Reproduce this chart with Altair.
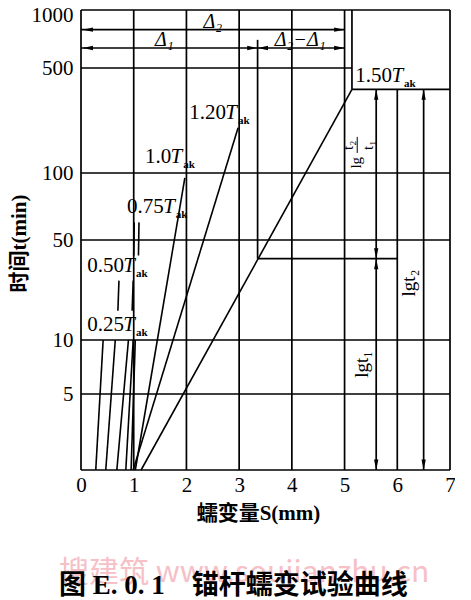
import altair as alt
import pandas as pd

SERIF = "Liberation Serif, DejaVu Serif"
MIX = "Liberation Serif, Noto Sans CJK SC"
CJK = "Noto Sans CJK SC"

# ---------------- data ----------------
x_ticks = [0, 1, 2, 3, 4, 5, 6, 7]
y_ticks = [5, 10, 50, 100, 500, 1000]
# grid values of the time axis (the printed grid is not an even log scale)
y_grid_values = [2, 5, 10, 50, 100, 500, 1000]

# creep lines: start (S, t) -> end (S, t)
creep_s0 = [0.28, 0.47, 0.68, 0.85, 0.95, 1.03, 0.99, 1.14]
creep_t0 = [2, 2, 2, 2, 2, 2, 2, 2]
creep_s1 = [0.42, 0.65, 0.90, 0.99, 1.03, 1.97, 2.98, 5.14]
creep_t1 = [10, 10, 10, 10, 10, 95, 200, 360]

# short pieces of the 0.50T / 0.75T lines visible between labels
piece_s0 = [0.70, 0.97, 1.00, 1.09]
piece_t0 = [16, 16, 39, 39]
piece_s1 = [0.72, 0.99, 1.01, 1.10]
piece_t1 = [26, 26, 60, 60]

# vertical lines: S, t from, t to
vline_s = [0, 1, 2, 3, 4, 5, 6, 7, 5.14, 3.35, 5.6, 6.5]
vline_t0 = [2, 2, 2, 2, 2, 2, 2, 2, 360, 37, 2, 2]
vline_t1 = [1000, 1000, 1000, 1000, 1000, 1000, 360, 1000, 1000, 700, 360, 360]
# horizontal lines: t, S from, S to
hline_t = [1000, 500, 100, 50, 10, 5, 2, 360, 37, 790, 635]
hline_s0 = [0, 0, 0, 0, 0, 0, 0, 5.14, 3.35, 0, 0]
hline_s1 = [7, 5.14, 7, 7, 7, 7, 7, 7, 6, 5, 5]

# arrow heads (tip position and direction)
arrow_s = [5.6, 6.5, 5.6, 5.6, 6.5, 5.6, 0.03, 0.03, 3.35, 5.0, 5.0, 3.35]
arrow_t = [360, 360, 37, 2, 2, 37, 790, 635, 635, 790, 635, 635]
arrow_dir = ["up", "up", "up", "down", "down", "down",
             "left", "left", "left", "right", "right", "right"]

# load stage labels (right end of "T")
stage_num = ["0.25", "0.50", "0.75", "1.0", "1.20", "1.50"]
stage_s = [1.025, 1.025, 1.78, 1.92, 2.96, 6.11]
stage_t = [12.7, 33, 70, 128, 251, 443]

# dimension labels
delta_text = ["Δ₂", "Δ₁", "Δ₂−Δ₁"]
delta_s = [2.5, 1.58, 4.16]
delta_t = [866, 698, 698]

# rotated labels
lg_text = ["lgt₁", "lgt₂"]
lg_s = [5.33, 6.22]
lg_t = [7.3, 25]
frac_text = ["lg", "t₂", "t₁"]
frac_s = [5.22, 5.07, 5.45]
frac_t = [117, 153, 153]
bar_s = [5.24]
bar_t0 = [136]
bar_t1 = [174]

# ---------------- tables ----------------
lines_df = pd.DataFrame({
    "s": vline_s + hline_s0,
    "s2": vline_s + hline_s1,
    "t": vline_t0 + hline_t,
    "t2": vline_t1 + hline_t,
})
creep_df = pd.DataFrame({"s": creep_s0 + piece_s0, "t": creep_t0 + piece_t0,
                         "s2": creep_s1 + piece_s1, "t2": creep_t1 + piece_t1})
bar_df = pd.DataFrame({"s": bar_s, "s2": bar_s, "t": bar_t0, "t2": bar_t1})
arrow_df = pd.DataFrame({"s": arrow_s, "t": arrow_t, "dir": arrow_dir})
stage_df = pd.DataFrame({"s": stage_s, "t": stage_t, "num": stage_num})
delta_df = pd.DataFrame({"s": delta_s, "t": delta_t, "txt": delta_text})
lg_df = pd.DataFrame({"s": lg_s, "t": lg_t, "txt": lg_text})
frac_df = pd.DataFrame({"s": frac_s, "t": frac_t, "txt": frac_text})

# ---------------- scales / axes ----------------
xscale = alt.Scale(domain=[0, 7], nice=False, zero=False)
yscale = alt.Scale(type="log", domain=y_grid_values,
                   range=[460, 384, 330, 230, 163, 58, 0], nice=False)

xaxis = alt.Axis(values=x_ticks, format="d", grid=False, domain=False, ticks=False,
                 labelFont=SERIF, labelFontSize=21, labelPadding=4, labelColor="black",
                 labelFlush=False, labelOverlap=False,
                 title="蠕变量S(mm)", titleFont=MIX, titleFontSize=21,
                 titleFontWeight="bold", titleColor="black",
                 titleX=177, titleY=43, titleBaseline="middle")
yaxis = alt.Axis(values=y_ticks, format="d", grid=False, domain=False, ticks=False,
                 labelFont=SERIF, labelFontSize=21, labelPadding=8, labelColor="black",
                 labelFlush=False, labelOverlap=False,
                 labelOffset={"condition": {"test": "datum.value >= 1000", "value": 5},
                              "value": 0},
                 title="时间t(min)", titleFont=MIX, titleFontSize=21,
                 titleFontWeight="bold", titleColor="black",
                 titleX=-62, titleY=233, titleBaseline="middle")

X = alt.X("s:Q", scale=xscale, axis=xaxis)
Y = alt.Y("t:Q", scale=yscale, axis=yaxis)

grid = alt.Chart(lines_df).mark_rule(color="black", strokeWidth=1.7).encode(
    x=X, x2="s2:Q", y=Y, y2="t2:Q")
creep = alt.Chart(creep_df).mark_rule(color="black", strokeWidth=1.6).encode(
    x=X, x2="s2:Q", y=Y, y2="t2:Q")
bar = alt.Chart(bar_df).mark_rule(color="black", strokeWidth=1).encode(
    x=X, x2="s2:Q", y=Y, y2="t2:Q")

arrow_paths = {
    "up": "M0,0L-0.45,2.2L0.45,2.2Z",
    "down": "M0,0L-0.45,-2.2L0.45,-2.2Z",
    "left": "M0,0L2.2,-0.45L2.2,0.45Z",
    "right": "M0,0L-2.2,-0.45L-2.2,0.45Z",
}
arrows = alt.Chart(arrow_df).mark_point(filled=True, color="black", size=90, opacity=1).encode(
    x=X, y=Y,
    shape=alt.Shape("dir:N", scale=alt.Scale(domain=list(arrow_paths.keys()),
                                             range=list(arrow_paths.values())),
                    legend=None))

num_txt = alt.Chart(stage_df).mark_text(align="right", baseline="middle", dx=-11,
                                        font=SERIF, fontSize=21, color="black").encode(
    x=X, y=Y, text="num:N")
t_txt = alt.Chart(stage_df).mark_text(align="right", baseline="middle", dx=0,
                                      font=SERIF, fontSize=21, fontStyle="italic",
                                      color="black", text="T").encode(x=X, y=Y)
ak_txt = alt.Chart(stage_df).mark_text(align="left", baseline="middle", dx=1, dy=8,
                                       font=SERIF, fontSize=11, fontWeight="bold",
                                       color="black", text="ak").encode(x=X, y=Y)
delta_txt = alt.Chart(delta_df).mark_text(align="center", baseline="middle",
                                          font=SERIF, fontSize=20, fontStyle="italic",
                                          color="black").encode(x=X, y=Y, text="txt:N")
lg_txt = alt.Chart(lg_df).mark_text(align="center", baseline="middle", angle=270,
                                    font=SERIF, fontSize=19, color="black").encode(
    x=X, y=Y, text="txt:N")
frac_txt = alt.Chart(frac_df).mark_text(align="center", baseline="middle", angle=270,
                                        font=SERIF, fontSize=15, color="black").encode(
    x=X, y=Y, text="txt:N")

chart = alt.layer(grid, creep, bar, arrows, num_txt, t_txt, ak_txt,
                  delta_txt, lg_txt, frac_txt).properties(
    width=369, height=460,
    autosize=alt.AutoSizeParams(type="none"),
    padding={"left": 73, "top": 2, "right": 5, "bottom": 128},
    title=alt.TitleParams(
        text="搜建筑   www.soujianzhu.cn",
        subtitle="图 E. 0. 1　锚杆蠕变试验曲线",
        orient="bottom", anchor="start", frame="group", dx=-22, offset=35,
        font=CJK, fontSize=30, fontWeight="normal", color="#f6c0c6",
        subtitleFont=MIX, subtitleFontSize=27, subtitleFontWeight="bold",
        subtitleColor="black", subtitlePadding=-15),
).configure_view(stroke=None)

chart.save("out.html", embed_options={"renderer": "svg", "actions": False})
